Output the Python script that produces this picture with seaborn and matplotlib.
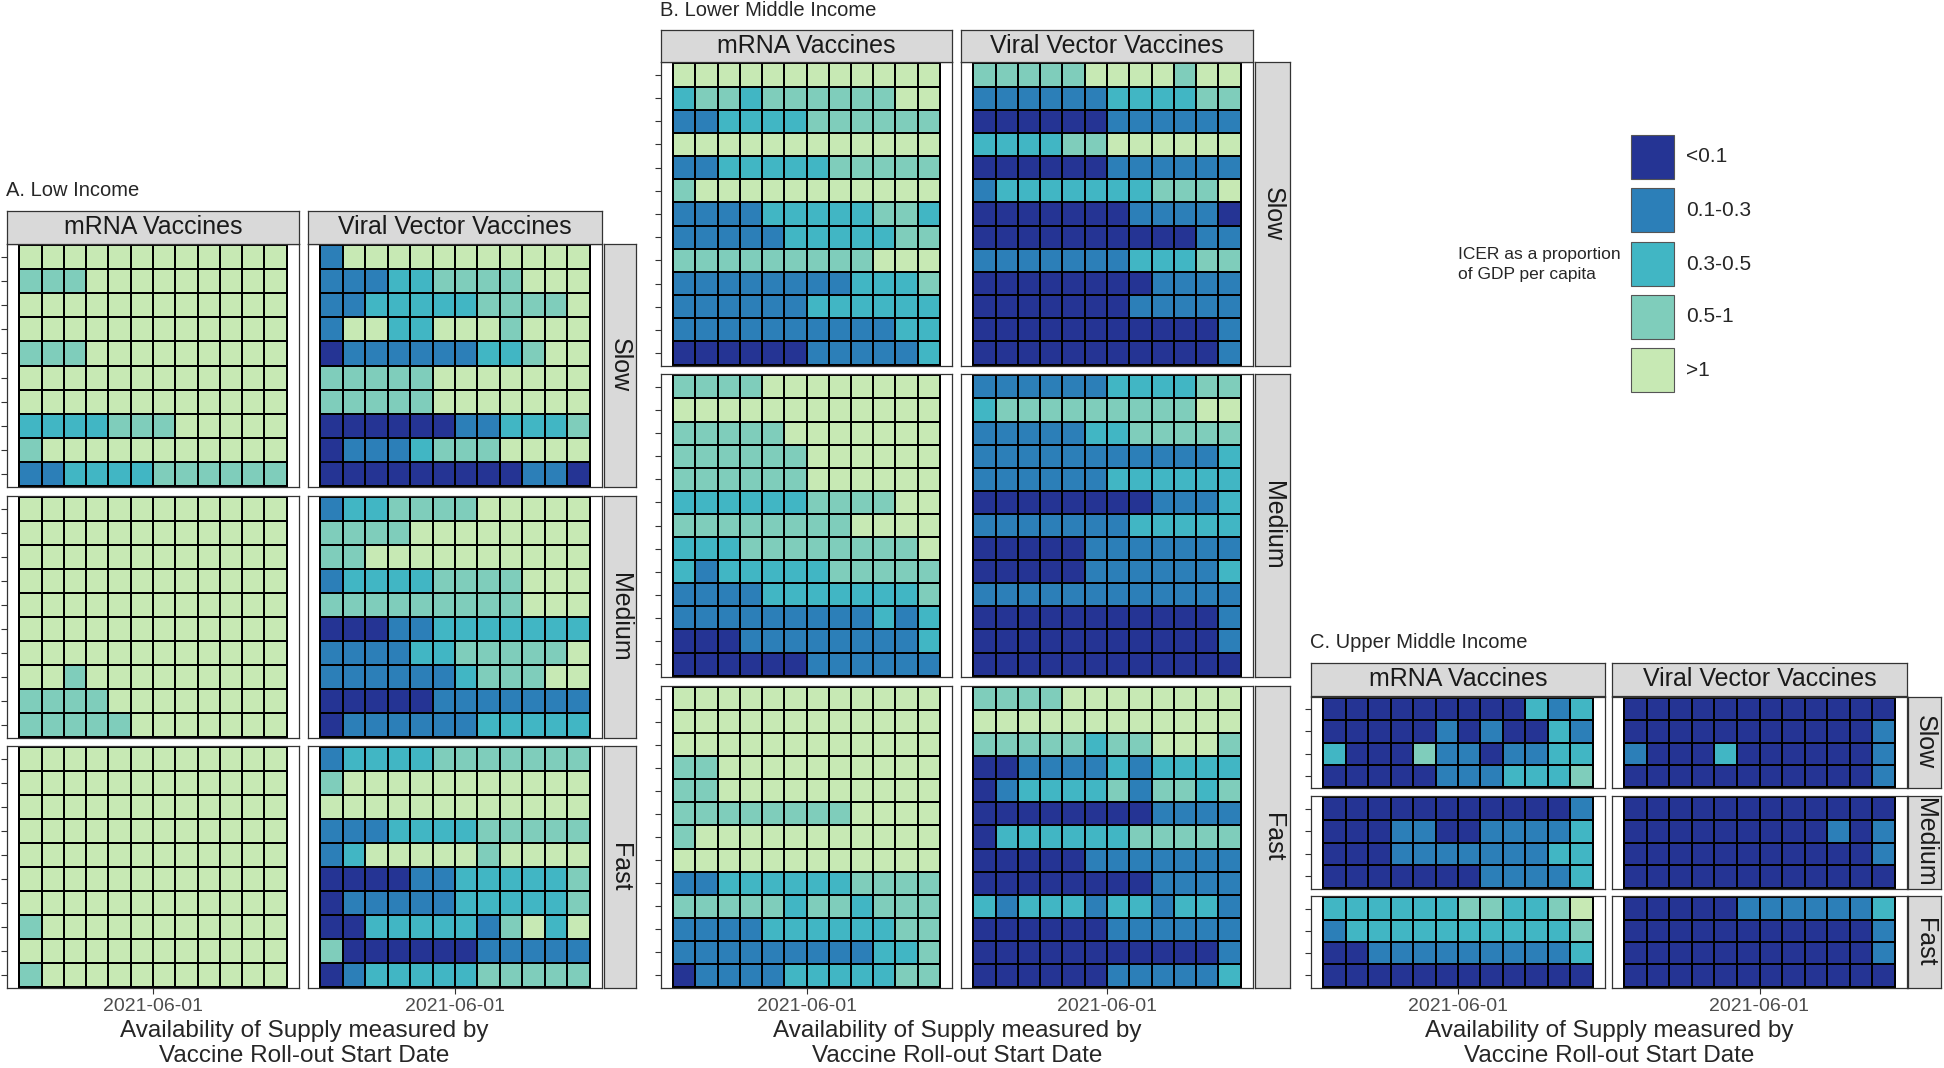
import numpy as np
import matplotlib.pyplot as plt
import seaborn as sns
from matplotlib.colors import ListedColormap
from matplotlib.patches import Rectangle

# ICER classes, coded 0..4 in the grids below
icer_labels = ['<0.1', '0.1-0.3', '0.3-0.5', '0.5-1', '>1']
icer_colors = ['#253494', '#2c7fb8', '#41b6c4', '#7fcdbb', '#c7e9b4']

vaccines = ['mRNA Vaccines', 'Viral Vector Vaccines']
speeds = ['Slow', 'Medium', 'Fast']
date_tick = '2021-06-01'
n_dates = 12

# each string is one row of tiles (top to bottom), one digit per start date
a_mrna_slow = ["444444444444", "333444444444", "444444444444", "444444444444",
               "333444444444", "444444444444", "444444444444", "222233344444",
               "344444444444", "112222333333"]
a_mrna_medium = ["444444444444", "444444444444", "444444444444", "444444444444",
                 "444444444444", "444444444444", "444444444444", "443444444444",
                 "333344444444", "333334444444"]
a_mrna_fast = ["444444444444", "444444444444", "444444444444", "444444444444",
               "444444444444", "444444444444", "444444444444", "344444444444",
               "444444444444", "344444444444"]
a_viral_slow = ["144444444444", "111223333444", "112222233334", "144224443444",
                "011111122344", "333334444444", "333334444444", "000000112223",
                "011123334444", "000000000110"]
a_viral_medium = ["122333344444", "333344444444", "334444444444", "122223333444",
                  "333333333444", "000112222222", "111122333334", "111111233344",
                  "000001111111", "011111122222"]
a_viral_fast = ["122223333333", "344444444444", "444444444444", "111222233333",
                "124444434444", "000011222223", "011111222223", "002222213424",
                "300000011111", "012222233333"]

b_mrna_slow = ["444444444444", "233233333344", "112222333333", "444444444444",
               "112222233333", "344444444444", "111122222332", "111112222233",
               "333333333444", "111111112223", "111111222222", "111111111122",
               "000000111112"]
b_mrna_medium = ["333344444444", "444444444444", "333334444444", "333333444444",
                 "333333444444", "222222333344", "333333334444", "222333333334",
                 "212222233333", "111122222223", "111111111212", "000111111112",
                 "000000111111"]
b_mrna_fast = ["444444444444", "444444444444", "444444444444", "334444444444",
               "334444444444", "333333334444", "344444444444", "444444444444",
               "112222223333", "333332332333", "111122222233", "111111111223",
               "011112222233"]
b_viral_slow = ["333334444344", "111111222233", "000000111111", "222233444444",
                "000000111111", "122222223334", "000000011110", "000000000011",
                "111111122233", "000000001111", "000000011111", "000000000001",
                "000000000001"]
b_viral_medium = ["111111222233", "233333333344", "111112233333", "111111111112",
                  "111111222222", "000000001112", "111111122222", "000001111111",
                  "000001111112", "111111111111", "000000000001", "000000000001",
                  "000000000000"]
b_viral_fast = ["333344444444", "444444444444", "333332334443", "001111212222",
                "012222313323", "000000001111", "022222233333", "000001111111",
                "000000001111", "212221221221", "000000111111", "000000000001",
                "000000111112"]

c_mrna_slow = ["000000000212", "000001010021", "200031101122", "000001112223"]
c_mrna_medium = ["000000000001", "000110011112", "000111111122", "000000011112"]
c_mrna_fast = ["222222332234", "122222222223", "001111111112", "000000000000"]
c_viral_slow = ["000000000000", "000000000001", "100020000001", "000000000001"]
c_viral_medium = ["000000000000", "000000000101", "000000000001", "000000000000"]
c_viral_fast = ["000001111112", "000000000001", "000000000001", "000000000000"]

W, H = 1944, 1068
sns.set_style('white')
plt.rcParams['font.family'] = ['Liberation Sans', 'DejaVu Sans']
fig = plt.figure(figsize=(W / 100, H / 100), dpi=100)
cmap = ListedColormap(icer_colors)
EDGE = '#333333'


def box(x0, y0, x1, y1):
    return [x0 / W, 1 - y1 / H, (x1 - x0) / W, (y1 - y0) / H]


def draw_facet(rect, rows, left_ticks, bottom_label):
    ax = fig.add_axes(box(*rect))
    mat = np.array([[int(c) for c in r] for r in rows])
    sns.heatmap(mat, ax=ax, cmap=cmap, vmin=-0.5, vmax=4.5, cbar=False,
                linewidths=1.1, linecolor='black')
    ax.set_xlim(-0.55, n_dates + 0.55)
    ax.set_ylim(len(rows) + 0.06, -0.06)
    for s in ax.spines.values():
        s.set_visible(True)
        s.set_color(EDGE)
        s.set_linewidth(0.9)
    if left_ticks:
        ax.set_yticks(np.arange(len(rows)) + 0.5)
        ax.set_yticklabels([])
        ax.tick_params(axis='y', length=4, width=0.8, color=EDGE, left=True)
    else:
        ax.set_yticks([])
    if bottom_label:
        ax.set_xticks([n_dates / 2])
        ax.set_xticklabels([date_tick], fontsize=14, color='#4d4d4d')
        ax.tick_params(axis='x', length=4, width=0.8, color=EDGE, bottom=True, pad=3)
    else:
        ax.set_xticks([])
    ax.set_xlabel('')
    ax.set_ylabel('')


def strip(rect, text, rotate=False):
    ax = fig.add_axes(box(*rect))
    ax.set_facecolor('#d9d9d9')
    ax.set_xticks([])
    ax.set_yticks([])
    for s in ax.spines.values():
        s.set_visible(True)
        s.set_color(EDGE)
        s.set_linewidth(0.9)
    ax.text(0.5, 0.5, text, rotation=-90 if rotate else 0, ha='center', va='center',
            fontsize=18, color='#1a1a1a', transform=ax.transAxes)


panels = [
    dict(title='A. Low Income', title_y=190,
         cols=[(7, 299), (308, 602)], side=(604, 636), strip_y=(211, 244),
         rows=[(244, 487), (496, 738), (746, 988)],
         grids=[[a_mrna_slow, a_viral_slow], [a_mrna_medium, a_viral_medium],
                [a_mrna_fast, a_viral_fast]]),
    dict(title='B. Lower Middle Income', title_y=10,
         cols=[(661, 952), (961, 1253)], side=(1255, 1290), strip_y=(30, 62),
         rows=[(62, 366), (374, 677), (686, 988)],
         grids=[[b_mrna_slow, b_viral_slow], [b_mrna_medium, b_viral_medium],
                [b_mrna_fast, b_viral_fast]]),
    dict(title='C. Upper Middle Income', title_y=642,
         cols=[(1311, 1605), (1612, 1907)], side=(1908, 1941), strip_y=(663, 696),
         rows=[(697, 788), (796, 889), (896, 988)],
         grids=[[c_mrna_slow, c_viral_slow], [c_mrna_medium, c_viral_medium],
                [c_mrna_fast, c_viral_fast]]),
]

overlay = fig.add_axes([0, 0, 1, 1])
overlay.set_xlim(0, W)
overlay.set_ylim(H, 0)
overlay.axis('off')

for p in panels:
    for i, (y0, y1) in enumerate(p['rows']):
        for j, (x0, x1) in enumerate(p['cols']):
            draw_facet((x0, y0, x1, y1), p['grids'][i][j], j == 0, i == 2)
        strip((p['side'][0], y0, p['side'][1], y1), speeds[i], rotate=True)
    for j, (x0, x1) in enumerate(p['cols']):
        strip((x0, p['strip_y'][0], x1, p['strip_y'][1]), vaccines[j])
    left = p['cols'][0][0]
    overlay.text(left - 1, p['title_y'], p['title'], fontsize=14.5, ha='left', va='center')
    mid = (p['cols'][0][0] + p['cols'][1][1]) / 2
    overlay.text(mid, 1031, 'Availability of Supply measured by', fontsize=17.5,
                 ha='center', va='center')
    overlay.text(mid, 1056, 'Vaccine Roll-out Start Date', fontsize=17.5,
                 ha='center', va='center')

# legend
key_tops = [135, 188, 242, 295, 348]
for top, lab, col in zip(key_tops, icer_labels, icer_colors):
    overlay.add_patch(Rectangle((1631, top), 43, 44, facecolor=col, edgecolor='#555555', lw=0.8))
    overlay.text(1686, top + 22, lab, fontsize=15, ha='left', va='center')
overlay.text(1458, 255, 'ICER as a proportion', fontsize=12.5, ha='left', va='center')
overlay.text(1458, 275, 'of GDP per capita', fontsize=12.5, ha='left', va='center')

fig.savefig('out.png', dpi=100)
